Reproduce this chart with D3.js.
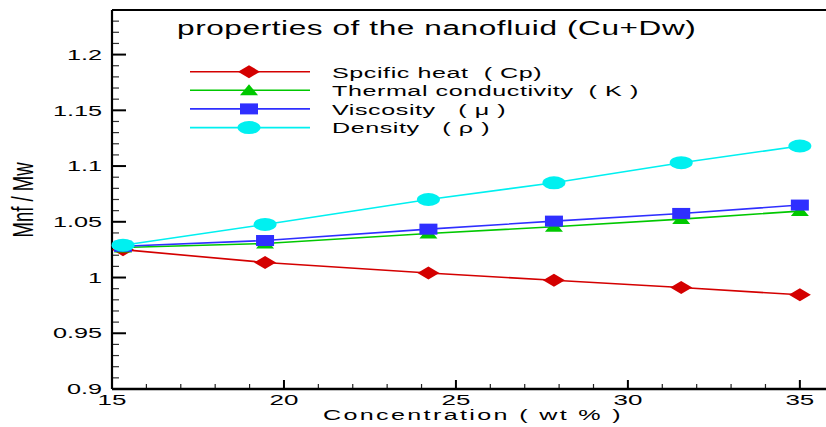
<!DOCTYPE html>
<html>
<head>
<meta charset="utf-8">
<script src="https://cdn.jsdelivr.net/npm/d3@7"></script>
<style>
  html, body { margin: 0; padding: 0; background: #fff; }
  svg { display: block; }
  text { font-family: "Liberation Sans", Arial, Helvetica, sans-serif; fill: #000; white-space: pre; }
</style>
</head>
<body>
<svg id="chart" width="826" height="427"></svg>
<script>
// ---- data ----
const concentration = [15.32, 19.45, 24.2, 27.85, 31.55, 35];
const specificHeat = [1.025, 1.0135, 1.004, 0.9976, 0.991, 0.9845];
const thermalConductivity = [1.027, 1.0305, 1.0395, 1.0455, 1.0524, 1.0596];
const viscosity = [1.028, 1.0332, 1.0434, 1.0506, 1.0575, 1.065];
const density = [1.029, 1.0476, 1.070, 1.085, 1.103, 1.118];

const seriesNames = ["Spcific heat  ( Cp)", "Thermal conductivity  ( K )", "Viscosity   ( \u03bc )", "Density   ( \u03c1 )"];
const seriesColors = ["#d40000", "#00c800", "#2f2fff", "#00f0f0"];
const seriesMarkers = ["diamond", "triangle", "square", "circle"];
const seriesValues = [specificHeat, thermalConductivity, viscosity, density];

const xMajorTicks = [15, 20, 25, 30, 35];
const yMajorTicks = [0.9, 0.95, 1, 1.05, 1.1, 1.15, 1.2];
const yTickLabels = ["0.9", "0.95", "1", "1.05", "1.1", "1.15", "1.2"];
const titleText = "properties of the nanofluid (Cu+Dw)";
const xLabel = "Concentration ( wt % )";
const yLabel = "Mnf / Mw";

// ---- layout ----
const SX = 1.62;   // horizontal stretch of the original picture
const SXT = 1.74;  // stretch of tick numbers
const svg = d3.select("#chart");
const x = d3.scaleLinear().domain([15, 35.76]).range([112, 826]);
const y = d3.scaleLinear().domain([0.9, 1.24]).range([389, 10]);

function stext(g, str, tx, ty, size, anchor, sx, ls) {
  return g.append("text")
    .attr("transform", `translate(${tx},${ty}) scale(${sx || SX},1)`)
    .attr("text-anchor", anchor || "start")
    .style("font-size", size + "px")
    .style("letter-spacing", (ls || 0) + "px")
    .text(str);
}

function marker(g, type, cx, cy, color) {
  if (type === "circle") {
    g.append("ellipse").attr("cx", cx).attr("cy", cy).attr("rx", 11.5).attr("ry", 6.5).attr("fill", color);
  } else if (type === "square") {
    g.append("rect").attr("x", cx - 9).attr("y", cy - 5.5).attr("width", 18).attr("height", 11).attr("fill", color);
  } else if (type === "diamond") {
    g.append("path").attr("d", `M${cx - 11},${cy}L${cx},${cy - 6.5}L${cx + 11},${cy}L${cx},${cy + 6.5}Z`).attr("fill", color);
  } else if (type === "triangle") {
    g.append("path").attr("d", `M${cx - 9},${cy + 5}L${cx},${cy - 6}L${cx + 9},${cy + 5}Z`).attr("fill", color);
  }
}

// ---- axes ----
const axes = svg.append("g");
const yMinor = d3.range(0.91, 1.2351, 0.01).filter(v => !yMajorTicks.some(m => Math.abs(m - v) < 1e-6));
axes.selectAll(".ymin").data(yMinor).enter().append("line")
  .attr("x1", x(15)).attr("x2", x(15) + 7)
  .attr("y1", d => y(d)).attr("y2", d => y(d))
  .attr("stroke", "#333").attr("stroke-width", 1.2);
axes.selectAll(".ymaj").data(yMajorTicks).enter().append("line")
  .attr("x1", x(15)).attr("x2", x(15) + 14)
  .attr("y1", d => y(d)).attr("y2", d => y(d))
  .attr("stroke", "#000").attr("stroke-width", 2);
const xMinor = d3.range(16, 36, 1).filter(v => xMajorTicks.indexOf(v) < 0 && x(v) < 826);
axes.selectAll(".xmin").data(xMinor).enter().append("line")
  .attr("x1", d => x(d)).attr("x2", d => x(d))
  .attr("y1", y(0.9)).attr("y2", y(0.9) - 5)
  .attr("stroke", "#222").attr("stroke-width", 1.2);
axes.selectAll(".xmaj").data(xMajorTicks).enter().append("line")
  .attr("x1", d => x(d)).attr("x2", d => x(d))
  .attr("y1", y(0.9)).attr("y2", y(0.9) - 9)
  .attr("stroke", "#000").attr("stroke-width", 2);
axes.append("line").attr("x1", x(15)).attr("x2", 826).attr("y1", y(1.24)).attr("y2", y(1.24))
  .attr("stroke", "#000").attr("stroke-width", 2);
axes.append("line").attr("x1", x(15)).attr("x2", 826).attr("y1", y(0.9)).attr("y2", y(0.9))
  .attr("stroke", "#000").attr("stroke-width", 2.5);
axes.append("line").attr("x1", x(15)).attr("x2", x(15)).attr("y1", y(1.24)).attr("y2", y(0.9))
  .attr("stroke", "#000").attr("stroke-width", 2.2);

// tick labels
yMajorTicks.forEach((v, i) => stext(axes, yTickLabels[i], 102, y(v) + 5.2, 14.5, "end", SXT));
xMajorTicks.forEach(v => stext(axes, String(v), x(v), 404.5, 14.5, "middle", SXT + 0.05));

// axis titles
stext(axes, xLabel, 473, 420, 15.5, "middle", SX, 1.45);
axes.append("text")
  .attr("transform", `translate(33,200) scale(${SX},1) rotate(-90)`)
  .attr("text-anchor", "middle")
  .style("font-size", "18.5px")
  .text(yLabel);

// ---- series ----
const line = d3.line().x((d, i) => x(concentration[i])).y(d => y(d));
const plot = svg.append("g");
seriesValues.forEach((vals, s) => {
  plot.append("path").datum(vals).attr("d", line)
    .attr("fill", "none").attr("stroke", seriesColors[s]).attr("stroke-width", 1.6);
  vals.forEach((v, i) => marker(plot, seriesMarkers[s], x(concentration[i]), y(v), seriesColors[s]));
});

// ---- title & legend ----
stext(svg, titleText, 177, 35, 19.5, "start", SX, 0.35);
const legend = svg.append("g");
const legendY = [71.7, 90.2, 108.9, 127.6];
seriesNames.forEach((name, s) => {
  const ly = legendY[s];
  legend.append("line").attr("x1", 190).attr("x2", 310).attr("y1", ly).attr("y2", ly)
    .attr("stroke", seriesColors[s]).attr("stroke-width", 1.6);
  marker(legend, seriesMarkers[s], 249, ly, seriesColors[s]);
  stext(legend, name, 332, ly + 5.8, 15.5, "start", SX, 0.35);
});
</script>
</body>
</html>
